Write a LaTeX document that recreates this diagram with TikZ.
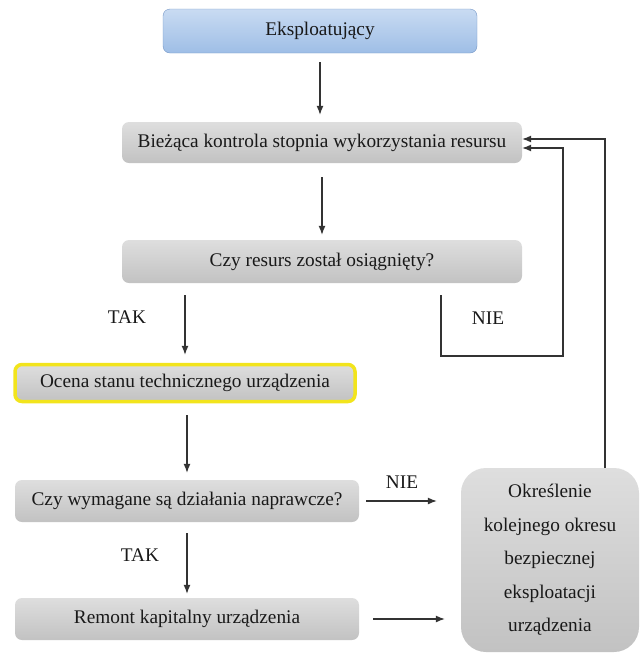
\documentclass[tikz,border=0pt]{standalone}
\usepackage{fontspec}
\setmainfont{Liberation Serif}
\usetikzlibrary{arrows.meta}
\definecolor{boxtop}{HTML}{DEDEDE}
\definecolor{boxbot}{HTML}{C2C2C2}
\definecolor{bluetop}{HTML}{C9DBF2}
\definecolor{bluebot}{HTML}{9EBEE6}
\definecolor{blueline}{HTML}{7396C6}
\definecolor{markyellow}{HTML}{F2E41C}
\begin{document}
\begin{tikzpicture}[x=1pt, y=-1pt,
  box/.style={rounded corners=7pt, inner sep=0pt, top color=boxtop, bottom color=boxbot, text=black!90, font=\fontsize{19.3}{33.5}\selectfont},
  lbl/.style={inner sep=0pt, text=black!90, font=\fontsize{19.3}{22}\selectfont},
  arr/.style={-{Latex[length=9pt,width=7pt]}, line width=1.1pt, draw=black!80}]
\useasboundingbox (0,0) rectangle (641,657);
\node[box, top color=bluetop, bottom color=bluebot, draw=blueline, minimum width=314pt, minimum height=44pt] (eksp) at (320,31) {Eksploatujący};
\node[box, minimum width=400pt, minimum height=41pt] (biez) at (322,142.5) {Bieżąca kontrola stopnia wykorzystania resursu};
\node[box, minimum width=400pt, minimum height=43pt] (resurs) at (322,261.5) {Czy resurs został osiągnięty?};
\node[box, draw=markyellow, line width=3.5pt, minimum width=340pt, minimum height=37pt] (ocena) at (185,383) {Ocena stanu technicznego urządzenia};
\node[box, minimum width=344pt, minimum height=42pt] (napr) at (187,501) {Czy wymagane są działania naprawcze?};
\node[box, minimum width=344pt, minimum height=42pt] (remont) at (187,619) {Remont kapitalny urządzenia};
\node[box, rounded corners=25pt, minimum width=178pt, minimum height=184pt, align=center] (okres) at (550,560) {Określenie\\kolejnego okresu\\bezpiecznej\\eksploatacji\\urządzenia};
\node[lbl] (tak1) at (127,317) {TAK};
\node[lbl] (tak2) at (140,555) {TAK};
\node[lbl] (nie1) at (488,318) {NIE};
\node[lbl] (nie2) at (402,482) {NIE};
\coordinate (nieA) at (441,295);
\coordinate (nieB) at (563,356);
\coordinate (ret) at (605,468);
% main line
\draw[arr, shorten <=9pt, shorten >=7pt] (eksp.south) -- (biez.north -| eksp.south);
\draw[arr, shorten <=14pt, shorten >=5pt] (biez.south) -- (resurs.north);
\draw[arr, shorten <=12pt, shorten >=8pt] (resurs.south -| ocena.north) -- (ocena.north);
\draw[arr, shorten <=12pt, shorten >=7pt] (ocena.south -| napr.north) -- (napr.north);
\draw[arr, shorten <=11pt, shorten >=4pt] (napr.south) -- (remont.north);
\draw[arr, shorten <=7pt, shorten >=24pt] (napr.east) -- (napr.east -| okres.west);
\draw[arr, shorten <=14pt, shorten >=16pt] (remont.east) -- (remont.east -| okres.west);
% return loops
\draw[arr] (nieA) |- (nieB) |- ([yshift=-5.5pt]biez.east);
\draw[arr] (ret) |- ([yshift=3.5pt]biez.east);
\end{tikzpicture}
\end{document}
